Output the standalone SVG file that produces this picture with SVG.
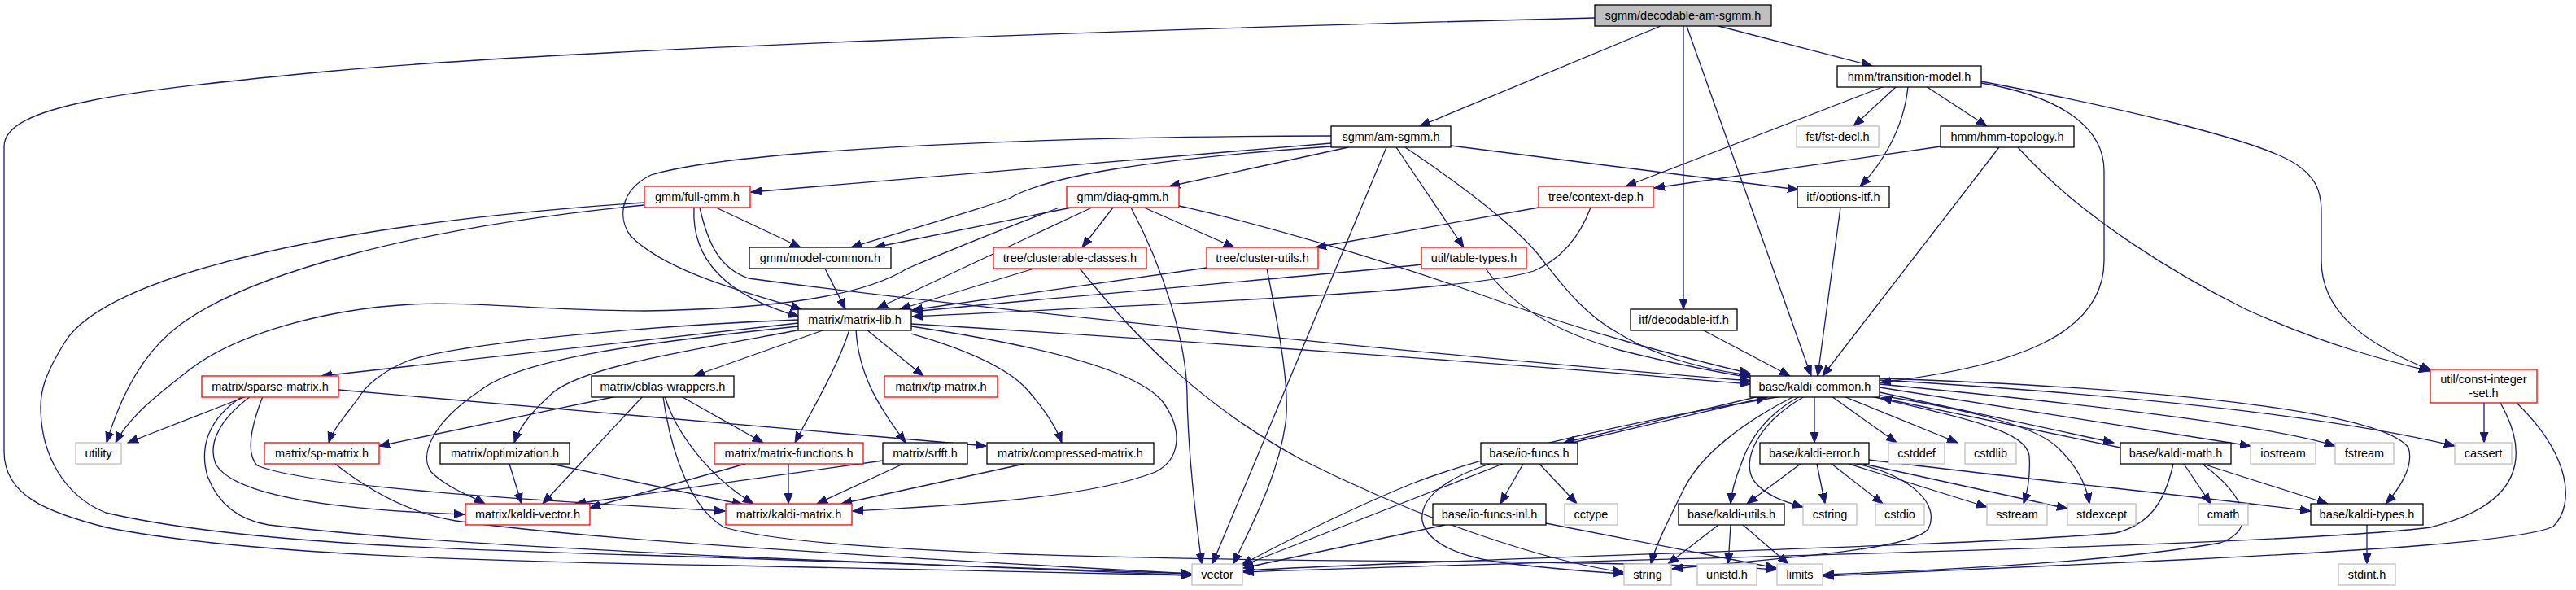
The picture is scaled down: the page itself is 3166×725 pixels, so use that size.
<svg xmlns="http://www.w3.org/2000/svg" width="3166" height="725" viewBox="0 0 3166 725">
<style>
rect{fill:#fff;stroke:#000;stroke-width:1.3}
.r rect{stroke:#f00}
.g rect{stroke:#bfbfbf}
.root rect{fill:#bfbfbf}
text{font-family:"Liberation Sans",Arial,Helvetica,sans-serif;font-size:14.5px;text-anchor:middle;fill:#000}
#edges path{fill:none;stroke:#191970;stroke-width:1.3;marker-end:url(#a)}
</style>
<defs>
<marker id="a" markerUnits="userSpaceOnUse" markerWidth="14" markerHeight="11" refX="13" refY="5.5" orient="auto">
<path d="M0,0.5 L13,5.5 L0,10.5 z" fill="#191970" stroke="#191970" stroke-width="1"/>
</marker>
</defs>
<rect x="0" y="0" width="3166" height="725" style="fill:#fff;stroke:none"/>
<g id="edges">
<path d="M1960,22 C1400,36 700,60 400,88 C150,112 5,130 5,180 L5,555 C5,610 60,630 130,648 C300,682 600,690 900,695 C1150,700 1350,704 1464,707"/>
<path d="M2041,32 L1745,155"/>
<path d="M2112,32 L2301,81"/>
<path d="M2069,32 L2069,380"/>
<path d="M2073,32 L2226,462"/>
<path d="M1636,167 C1250,168 900,185 800,215 C760,235 760,270 775,290 C820,335 920,360 985,380"/>
<path d="M1636,176 L923,236"/>
<path d="M1636,180 C1420,195 1290,215 1240,244 C1170,268 1090,290 1046,304"/>
<path d="M1657,181 L1437,229"/>
<path d="M1704,181 L1490,693"/>
<path d="M1716,181 L1799,304"/>
<path d="M1727,181 C1770,210 1850,265 1890,312 C1920,350 1945,385 1990,410 C2040,440 2100,455 2151,461"/>
<path d="M1783,179 L2210,233"/>
<path d="M2316,106 L1998,229"/>
<path d="M2331,106 L2278,155"/>
<path d="M2345,106 C2340,160 2310,205 2286,229"/>
<path d="M2367,106 L2442,155"/>
<path d="M2435,102 C2540,120 2586,160 2586,210 L2586,320 C2586,410 2480,450 2311,470"/>
<path d="M2435,100 C2620,135 2760,170 2810,195 C2850,215 2853,240 2853,260 L2853,320 C2853,380 2900,420 2988,455"/>
<path d="M2385,180 L2033,231"/>
<path d="M2457,181 L2240,462"/>
<path d="M2480,181 C2560,270 2680,340 2760,380 C2860,425 2940,445 2986,456"/>
<path d="M1891,255 L1617,304"/>
<path d="M1955,255 C1940,295 1915,320 1885,333 C1800,360 1400,375 1121,389"/>
<path d="M1271,330 L1106,380"/>
<path d="M1327,330 C1400,420 1480,500 1600,565 C1750,640 1900,690 1995,703"/>
<path d="M1483,329 L1121,381"/>
<path d="M1557,330 C1575,420 1585,480 1580,520 C1570,590 1535,650 1516,693"/>
<path d="M1747,325 C1650,336 1300,365 1121,383"/>
<path d="M1826,330 C1860,380 1920,410 1990,430 C2060,448 2110,457 2151,464"/>
<path d="M880,255 L984,304"/>
<path d="M853,255 C850,310 880,360 982,389"/>
<path d="M860,255 C870,300 885,330 920,342 C1200,380 1800,440 2151,468"/>
<path d="M792,252 C500,280 300,340 220,400 C180,430 150,480 131,544"/>
<path d="M792,249 C400,275 130,340 80,420 C55,460 50,480 50,500 C50,560 80,610 130,630 C300,670 600,677 850,684 C1100,692 1350,701 1464,705"/>
<path d="M1317,255 L1075,304"/>
<path d="M1302,255 C1210,290 1150,315 1115,330 C1050,370 920,380 792,382 C680,382 580,370 505,374 C400,380 290,410 232,455 C200,480 160,510 142,544"/>
<path d="M1342,255 L1078,379"/>
<path d="M1368,255 L1330,304"/>
<path d="M1390,255 C1430,330 1458,420 1459,484 C1460,560 1470,640 1477,693"/>
<path d="M1406,255 L1517,304"/>
<path d="M1449,253 C1550,275 1700,320 1800,355 C1950,410 2080,442 2151,459"/>
<path d="M1014,330 L1039,380"/>
<path d="M981,397 L395,462"/>
<path d="M981,393 C800,400 580,420 505,442 C470,455 450,475 444,484 C430,505 410,525 404,544"/>
<path d="M981,401 C800,420 640,440 590,480 C530,520 515,560 530,580 C550,600 580,610 596,619"/>
<path d="M985,405 C850,430 720,450 680,482 C660,500 640,520 632,544"/>
<path d="M1014,405 L853,462"/>
<path d="M1044,405 C1030,450 1000,500 977,544"/>
<path d="M1052,405 C1055,460 1080,500 1113,544"/>
<path d="M1065,405 L1135,462"/>
<path d="M1120,410 C1190,430 1245,455 1267,484 C1285,505 1298,525 1305,544"/>
<path d="M1120,401 C1280,425 1400,455 1430,495 C1455,530 1450,565 1420,580 C1330,615 1150,622 1048,628"/>
<path d="M1120,398 C1400,415 1900,450 2151,472"/>
<path d="M303,487 L157,544"/>
<path d="M416,479 L1212,548"/>
<path d="M308,487 C270,515 255,545 265,570 C290,615 450,628 571,632"/>
<path d="M323,487 C312,515 300,555 316,572 C380,598 650,615 891,628"/>
<path d="M298,487 C255,515 245,550 255,585 C270,625 300,640 330,645 C500,665 700,674 900,684 C1150,695 1350,703 1464,707"/>
<path d="M412,570 C450,600 500,630 560,640 C700,660 1000,680 1464,705"/>
<path d="M758,487 L466,548"/>
<path d="M790,487 L667,619"/>
<path d="M815,487 C825,560 850,625 890,648 C1000,680 1400,688 1800,690 C2000,692 2120,695 2183,700"/>
<path d="M817,487 C830,530 870,585 926,619"/>
<path d="M837,487 L938,544"/>
<path d="M626,570 L641,619"/>
<path d="M677,570 L913,620"/>
<path d="M916,570 L725,624"/>
<path d="M969,570 L969,619"/>
<path d="M1085,566 L707,619"/>
<path d="M1110,570 L1004,619"/>
<path d="M1259,570 L1034,619"/>
<path d="M2162,487 L1922,544"/>
<path d="M1932,544 L2172,488"/>
<path d="M2230,487 L2230,544"/>
<path d="M2251,487 L2331,544"/>
<path d="M2266,487 L2406,544"/>
<path d="M2310,482 L2598,544"/>
<path d="M2606,550 L2312,489"/>
<path d="M2310,476 L2766,548"/>
<path d="M2310,472 C2600,500 2800,525 2870,548"/>
<path d="M2310,467 C2700,490 2900,520 3017,548"/>
<path d="M2310,465 C2700,478 2930,510 2960,550 C2968,575 2945,605 2932,619"/>
<path d="M2300,487 C2420,515 2490,530 2494,560 C2496,590 2490,610 2487,619"/>
<path d="M2305,485 C2430,505 2505,525 2530,551 C2555,575 2565,600 2568,619"/>
<path d="M2205,487 C2140,520 2090,560 2070,600 C2050,640 2035,670 2029,693"/>
<path d="M2212,487 C2170,510 2150,540 2140,570 C2132,590 2128,605 2127,619"/>
<path d="M2218,487 C2160,520 2140,565 2155,590 C2170,610 2195,617 2216,623"/>
<path d="M2190,487 C2050,510 1850,550 1736,594 C1660,625 1590,660 1526,694"/>
<path d="M1872,570 L1844,619"/>
<path d="M1892,570 L1938,619"/>
<path d="M1831,570 C1770,590 1745,615 1748,640 C1755,670 1800,685 1850,692 C1920,700 1960,703 1995,705"/>
<path d="M1847,570 L1527,695"/>
<path d="M1776,645 L1528,698"/>
<path d="M1900,643 L2183,698"/>
<path d="M2213,570 L2147,619"/>
<path d="M2233,570 L2243,619"/>
<path d="M2251,570 L2314,619"/>
<path d="M2272,570 L2442,623"/>
<path d="M2290,570 L2541,625"/>
<path d="M2297,565 C2500,590 2700,610 2840,628"/>
<path d="M2282,570 C2350,585 2385,620 2370,650 C2350,675 2200,685 2055,699"/>
<path d="M2112,645 L2050,693"/>
<path d="M2127,645 L2124,693"/>
<path d="M2142,645 L2198,693"/>
<path d="M2684,570 L2717,619"/>
<path d="M2707,570 L2861,619"/>
<path d="M2671,570 C2660,620 2640,645 2600,655 C2400,672 1900,682 1528,701"/>
<path d="M2709,572 C2760,610 2775,650 2729,667 C2600,690 2400,700 2241,706"/>
<path d="M2909,645 L2909,693"/>
<path d="M3053,495 L3053,544"/>
<path d="M3073,495 C3110,560 3100,620 2987,648 C2800,672 2000,686 1528,703"/>
<path d="M3093,495 C3160,560 3165,620 3138,647 C3100,665 2900,677 2700,687 C2500,697 2350,702 2241,708"/>
<path d="M2262,255 L2234,462"/>
<path d="M2092,405 L2200,462"/>
</g>
<g id="n1" class="root"><rect x="1960" y="6" width="217" height="26"/><text x="2068.5" y="24">sgmm/decodable-am-sgmm.h</text></g>
<g id="n2"><rect x="1636" y="155" width="147" height="26"/><text x="1709.5" y="173">sgmm/am-sgmm.h</text></g>
<g id="n3"><rect x="2258" y="81" width="177" height="26"/><text x="2346.5" y="99">hmm/transition-model.h</text></g>
<g id="n4" class="g"><rect x="2208" y="155" width="101" height="26"/><text x="2258.5" y="173">fst/fst-decl.h</text></g>
<g id="n5"><rect x="2385" y="155" width="164" height="26"/><text x="2467" y="173">hmm/hmm-topology.h</text></g>
<g id="n6" class="r"><rect x="1891" y="229" width="141" height="26"/><text x="1961.5" y="247">tree/context-dep.h</text></g>
<g id="n7"><rect x="2209" y="229" width="113" height="26"/><text x="2265.5" y="247">itf/options-itf.h</text></g>
<g id="n8" class="r"><rect x="792" y="229" width="130" height="26"/><text x="857" y="247">gmm/full-gmm.h</text></g>
<g id="n9" class="r"><rect x="1311" y="229" width="138" height="26"/><text x="1380" y="247">gmm/diag-gmm.h</text></g>
<g id="n10"><rect x="921" y="304" width="174" height="26"/><text x="1008" y="322">gmm/model-common.h</text></g>
<g id="n11" class="r"><rect x="1221" y="304" width="188" height="26"/><text x="1315" y="322">tree/clusterable-classes.h</text></g>
<g id="n12" class="r"><rect x="1483" y="304" width="137" height="26"/><text x="1551.5" y="322">tree/cluster-utils.h</text></g>
<g id="n13" class="r"><rect x="1747" y="304" width="129" height="26"/><text x="1811.5" y="322">util/table-types.h</text></g>
<g id="n14"><rect x="981" y="380" width="139" height="26"/><text x="1050.5" y="398">matrix/matrix-lib.h</text></g>
<g id="n15"><rect x="2004" y="380" width="131" height="26"/><text x="2069.5" y="398">itf/decodable-itf.h</text></g>
<g id="n16"><rect x="2151" y="462" width="159" height="26"/><text x="2230.5" y="480">base/kaldi-common.h</text></g>
<g id="n17" class="r"><rect x="2987" y="454" width="131" height="41"/><text x="3052.5" y="471">util/const-integer</text><text x="3052.5" y="488">-set.h</text></g>
<g id="n18" class="r"><rect x="248" y="462" width="168" height="26"/><text x="332" y="480">matrix/sparse-matrix.h</text></g>
<g id="n19"><rect x="727" y="462" width="175" height="26"/><text x="814.5" y="480">matrix/cblas-wrappers.h</text></g>
<g id="n20" class="r"><rect x="1087" y="462" width="139" height="26"/><text x="1156.5" y="480">matrix/tp-matrix.h</text></g>
<g id="n21" class="g"><rect x="93" y="544" width="56" height="26"/><text x="121" y="562">utility</text></g>
<g id="n22" class="r"><rect x="325" y="544" width="141" height="26"/><text x="395.5" y="562">matrix/sp-matrix.h</text></g>
<g id="n23"><rect x="541" y="544" width="159" height="26"/><text x="620.5" y="562">matrix/optimization.h</text></g>
<g id="n24" class="r"><rect x="878" y="544" width="183" height="26"/><text x="969.5" y="562">matrix/matrix-functions.h</text></g>
<g id="n25"><rect x="1085" y="544" width="104" height="26"/><text x="1137" y="562">matrix/srfft.h</text></g>
<g id="n26"><rect x="1213" y="544" width="205" height="26"/><text x="1315.5" y="562">matrix/compressed-matrix.h</text></g>
<g id="n27" class="r"><rect x="572" y="619" width="153" height="26"/><text x="648.5" y="637">matrix/kaldi-vector.h</text></g>
<g id="n28" class="r"><rect x="892" y="619" width="155" height="26"/><text x="969.5" y="637">matrix/kaldi-matrix.h</text></g>
<g id="n29" class="g"><rect x="1465" y="693" width="62" height="26"/><text x="1496" y="711">vector</text></g>
<g id="n30"><rect x="1820" y="544" width="119" height="26"/><text x="1879.5" y="562">base/io-funcs.h</text></g>
<g id="n31"><rect x="2163" y="544" width="134" height="26"/><text x="2230" y="562">base/kaldi-error.h</text></g>
<g id="n32" class="g"><rect x="2321" y="544" width="69" height="26"/><text x="2355.5" y="562">cstddef</text></g>
<g id="n33" class="g"><rect x="2415" y="544" width="63" height="26"/><text x="2446.5" y="562">cstdlib</text></g>
<g id="n34"><rect x="2606" y="544" width="136" height="26"/><text x="2674" y="562">base/kaldi-math.h</text></g>
<g id="n35" class="g"><rect x="2766" y="544" width="80" height="26"/><text x="2806" y="562">iostream</text></g>
<g id="n36" class="g"><rect x="2870" y="544" width="72" height="26"/><text x="2906" y="562">fstream</text></g>
<g id="n37" class="g"><rect x="3017" y="544" width="70" height="26"/><text x="3052" y="562">cassert</text></g>
<g id="n38"><rect x="1761" y="619" width="139" height="26"/><text x="1830.5" y="637">base/io-funcs-inl.h</text></g>
<g id="n39" class="g"><rect x="1923" y="619" width="65" height="26"/><text x="1955.5" y="637">cctype</text></g>
<g id="n40"><rect x="2063" y="619" width="130" height="26"/><text x="2128" y="637">base/kaldi-utils.h</text></g>
<g id="n41" class="g"><rect x="2216" y="619" width="66" height="26"/><text x="2249" y="637">cstring</text></g>
<g id="n42" class="g"><rect x="2305" y="619" width="60" height="26"/><text x="2335" y="637">cstdio</text></g>
<g id="n43" class="g"><rect x="2442" y="619" width="74" height="26"/><text x="2479" y="637">sstream</text></g>
<g id="n44" class="g"><rect x="2541" y="619" width="84" height="26"/><text x="2583" y="637">stdexcept</text></g>
<g id="n45" class="g"><rect x="2702" y="619" width="61" height="26"/><text x="2732.5" y="637">cmath</text></g>
<g id="n46"><rect x="2840" y="619" width="138" height="26"/><text x="2909" y="637">base/kaldi-types.h</text></g>
<g id="n47" class="g"><rect x="1996" y="693" width="58" height="26"/><text x="2025" y="711">string</text></g>
<g id="n48" class="g"><rect x="2086" y="693" width="73" height="26"/><text x="2122.5" y="711">unistd.h</text></g>
<g id="n49" class="g"><rect x="2184" y="693" width="56" height="26"/><text x="2212" y="711">limits</text></g>
<g id="n50" class="g"><rect x="2874" y="693" width="70" height="26"/><text x="2909" y="711">stdint.h</text></g>
</svg>
